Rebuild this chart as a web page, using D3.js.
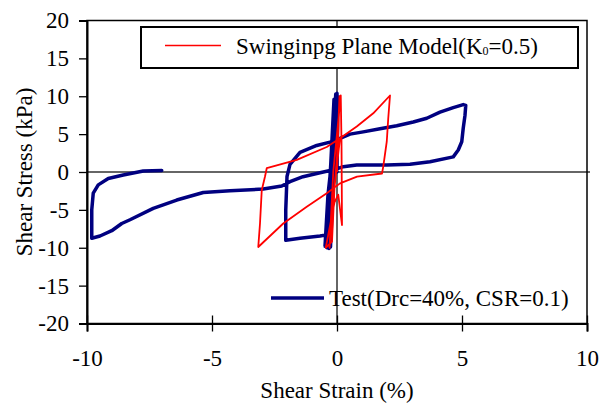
<!DOCTYPE html>
<html>
<head>
<meta charset="utf-8">
<script src="https://cdn.jsdelivr.net/npm/d3@7"></script>
<style>
  body { margin: 0; background: #fff; }
  text { font-family: "Liberation Serif", "Times New Roman", serif; fill: #000; }
</style>
</head>
<body>
<div id="chart"></div>
<script>
// Shear strain (%) / shear stress (kPa) pairs.
var testCurve = [
  [0, 0], [0.02, 6], [0.0, 10.4], [-0.1, 3], [-0.22, -4], [-0.32, -10.1],
  [-0.25, -3], [-0.12, 4], [-0.05, 10.3], [-0.18, 2], [-0.3, -5], [-0.4, -10.0],
  [-0.32, -4], [-0.22, 3], [-0.12, 9.6], [-0.25, 1], [-0.38, -6], [-0.48, -9.8],
  [-0.36, -3], [-0.06, 6], [0.06, 9.9], [-0.06, 3], [-0.18, -3], [-0.26, -9.9],
  [-0.16, -2], [-0.02, 5], [-0.1, 0], [-0.3, -6], [-0.45, -9.7],
  [-0.42, -8.3], [-0.68, -8.45], [-1.48, -8.75], [-2.05, -9.0],
  [-2.05, -5], [-2.0, -0.6], [-1.88, 1.0], [-1.48, 2.6], [-0.81, 3.5],
  [-0.28, 3.95], [0.12, 4.45], [0.52, 5.0], [1.05, 5.3], [1.72, 5.7],
  [2.39, 6.1], [3.05, 6.6], [3.59, 7.1], [4.12, 7.9], [4.65, 8.5], [5.05, 8.9],
  [5.15, 8.8], [5.12, 7.5], [5.05, 5.8], [4.99, 4.0], [4.85, 2.9], [4.65, 2.0],
  [3.72, 1.36], [2.92, 1.01], [1.99, 0.92], [0.79, 0.92], [0.25, 0.7], [-0.01, 0.4],
  [-0.68, -0.09], [-1.36, -0.62], [-1.88, -1.28], [-2.21, -1.85], [-2.95, -2.25],
  [-4.28, -2.47], [-5.35, -2.7], [-6.41, -3.7], [-7.35, -4.8], [-8.28, -6.3],
  [-8.61, -6.8], [-9.01, -7.75], [-9.48, -8.45], [-9.81, -8.75],
  [-9.81, -5.0], [-9.75, -2.8], [-9.55, -1.7], [-9.15, -0.85], [-8.55, -0.4],
  [-7.75, 0.13], [-7.01, 0.2]
];

var modelCurve = [
  [0, 0], [0.1, 10.0], [0.0, 2], [-0.3, -10.0], [-0.15, 0], [0.15, 10.1],
  [0.18, 4], [0.2, -7], [0.05, -3], [-0.1, -4], [-0.45, -10.0], [-0.2, -9.2],
  [-0.1, -2], [0.12, 4.45],
  [0.79, 6.0], [1.45, 7.75], [2.12, 10.1], [2.05, 7.1], [1.99, 4.0], [1.85, 0.7],
  [1.8, -0.2], [0.8, -0.6], [0.12, -1.5], [-0.41, -2.8], [-1.21, -4.6],
  [-2.15, -6.8], [-3.15, -9.9], [-3.08, -6.8], [-3.01, -2.4], [-2.88, -0.6],
  [-2.81, 0.5], [-1.61, 1.6], [-0.41, 3.3], [0.12, 4.45]
];

var xTicks = [-10, -5, 0, 5, 10];
var yTicks = [-20, -15, -10, -5, 0, 5, 10, 15, 20];

var modelLabel = 'Swinginpg Plane Model(K';
var testLabel = 'Test(Drc=40%, CSR=0.1)';

var width = 606, height = 403;
var SERIF = '"Liberation Serif", "Times New Roman", serif';

var svg = d3.select('#chart').append('svg')
    .attr('width', width)
    .attr('height', height);

var x = d3.scaleLinear().domain([-10, 10]).range([87, 587]);
var y = d3.scaleLinear().domain([-20, 20]).range([323.5, 20.5]);

var line = d3.line()
    .x(function(d) { return x(d[0]); })
    .y(function(d) { return y(d[1]); });

// Zero lines through the origin.
svg.append('line')
    .attr('x1', x(-10)).attr('x2', x(10) + 3)
    .attr('y1', y(0)).attr('y2', y(0))
    .attr('stroke', '#333').attr('stroke-width', 1.5);
svg.append('line')
    .attr('x1', x(0)).attr('x2', x(0))
    .attr('y1', y(20)).attr('y2', y(-20))
    .attr('stroke', '#333').attr('stroke-width', 1.5);

// Plot frame.
svg.append('rect')
    .attr('x', x(-10)).attr('y', y(20))
    .attr('width', x(10) - x(-10)).attr('height', y(-20) - y(20))
    .attr('fill', 'none').attr('stroke', '#000').attr('stroke-width', 1.5);

var plain = function(d) { return String(d); };

var yAxis = svg.append('g')
    .attr('transform', 'translate(' + x(-10) + ',0)')
    .call(d3.axisLeft(y).tickValues(yTicks).tickFormat(plain)
              .tickSize(8).tickPadding(10))
    .attr('font-family', SERIF)
    .attr('font-size', 23);
yAxis.select('.domain').attr('stroke-width', 2);
yAxis.selectAll('.tick line').attr('stroke-width', 1.3);
yAxis.selectAll('text').style('font-family', SERIF);

var xAxis = svg.append('g')
    .attr('transform', 'translate(0,' + y(-20) + ')')
    .call(d3.axisBottom(x).tickValues(xTicks).tickFormat(plain)
              .tickSize(8).tickPadding(18))
    .attr('font-family', SERIF)
    .attr('font-size', 23);
xAxis.select('.domain').attr('stroke-width', 2);
xAxis.selectAll('.tick line').attr('y1', -8).attr('stroke-width', 1.3);
xAxis.selectAll('text').style('font-family', SERIF);

svg.append('text')
    .attr('x', x(0)).attr('y', 398)
    .attr('text-anchor', 'middle')
    .attr('font-size', 23)
    .text('Shear Strain (%)');

svg.append('text')
    .attr('transform', 'translate(32,172) rotate(-90)')
    .attr('text-anchor', 'middle')
    .attr('font-size', 23)
    .text('Shear Stress (kPa)');

svg.append('path')
    .datum(testCurve)
    .attr('d', line)
    .attr('fill', 'none')
    .attr('stroke', '#000080')
    .attr('stroke-width', 3.5)
    .attr('stroke-linejoin', 'round')
    .attr('stroke-linecap', 'round');

svg.append('path')
    .datum(modelCurve)
    .attr('d', line)
    .attr('fill', 'none')
    .attr('stroke', '#ff0000')
    .attr('stroke-width', 1.8)
    .attr('stroke-linejoin', 'round');

// Model legend, boxed.
var lg1 = svg.append('g');
lg1.append('rect')
    .attr('x', 141).attr('y', 27).attr('width', 437).attr('height', 41)
    .attr('fill', '#fff').attr('stroke', '#000').attr('stroke-width', 2);
lg1.append('line')
    .attr('x1', 165).attr('x2', 221).attr('y1', 45.5).attr('y2', 45.5)
    .attr('stroke', '#ff0000').attr('stroke-width', 1.6);
var t1 = lg1.append('text')
    .attr('x', 236).attr('y', 54)
    .attr('font-size', 23);
t1.append('tspan').text(modelLabel);
t1.append('tspan').attr('font-size', 12).attr('dy', 1).text('0');
t1.append('tspan').attr('dy', -1).text('=0.5)');

// Test legend, no box.
var lg2 = svg.append('g');
lg2.append('line')
    .attr('x1', 271).attr('x2', 324).attr('y1', 298).attr('y2', 298)
    .attr('stroke', '#000080').attr('stroke-width', 3.5);
lg2.append('text')
    .attr('x', 329).attr('y', 306)
    .attr('font-size', 23)
    .text(testLabel);
</script>
</body>
</html>
